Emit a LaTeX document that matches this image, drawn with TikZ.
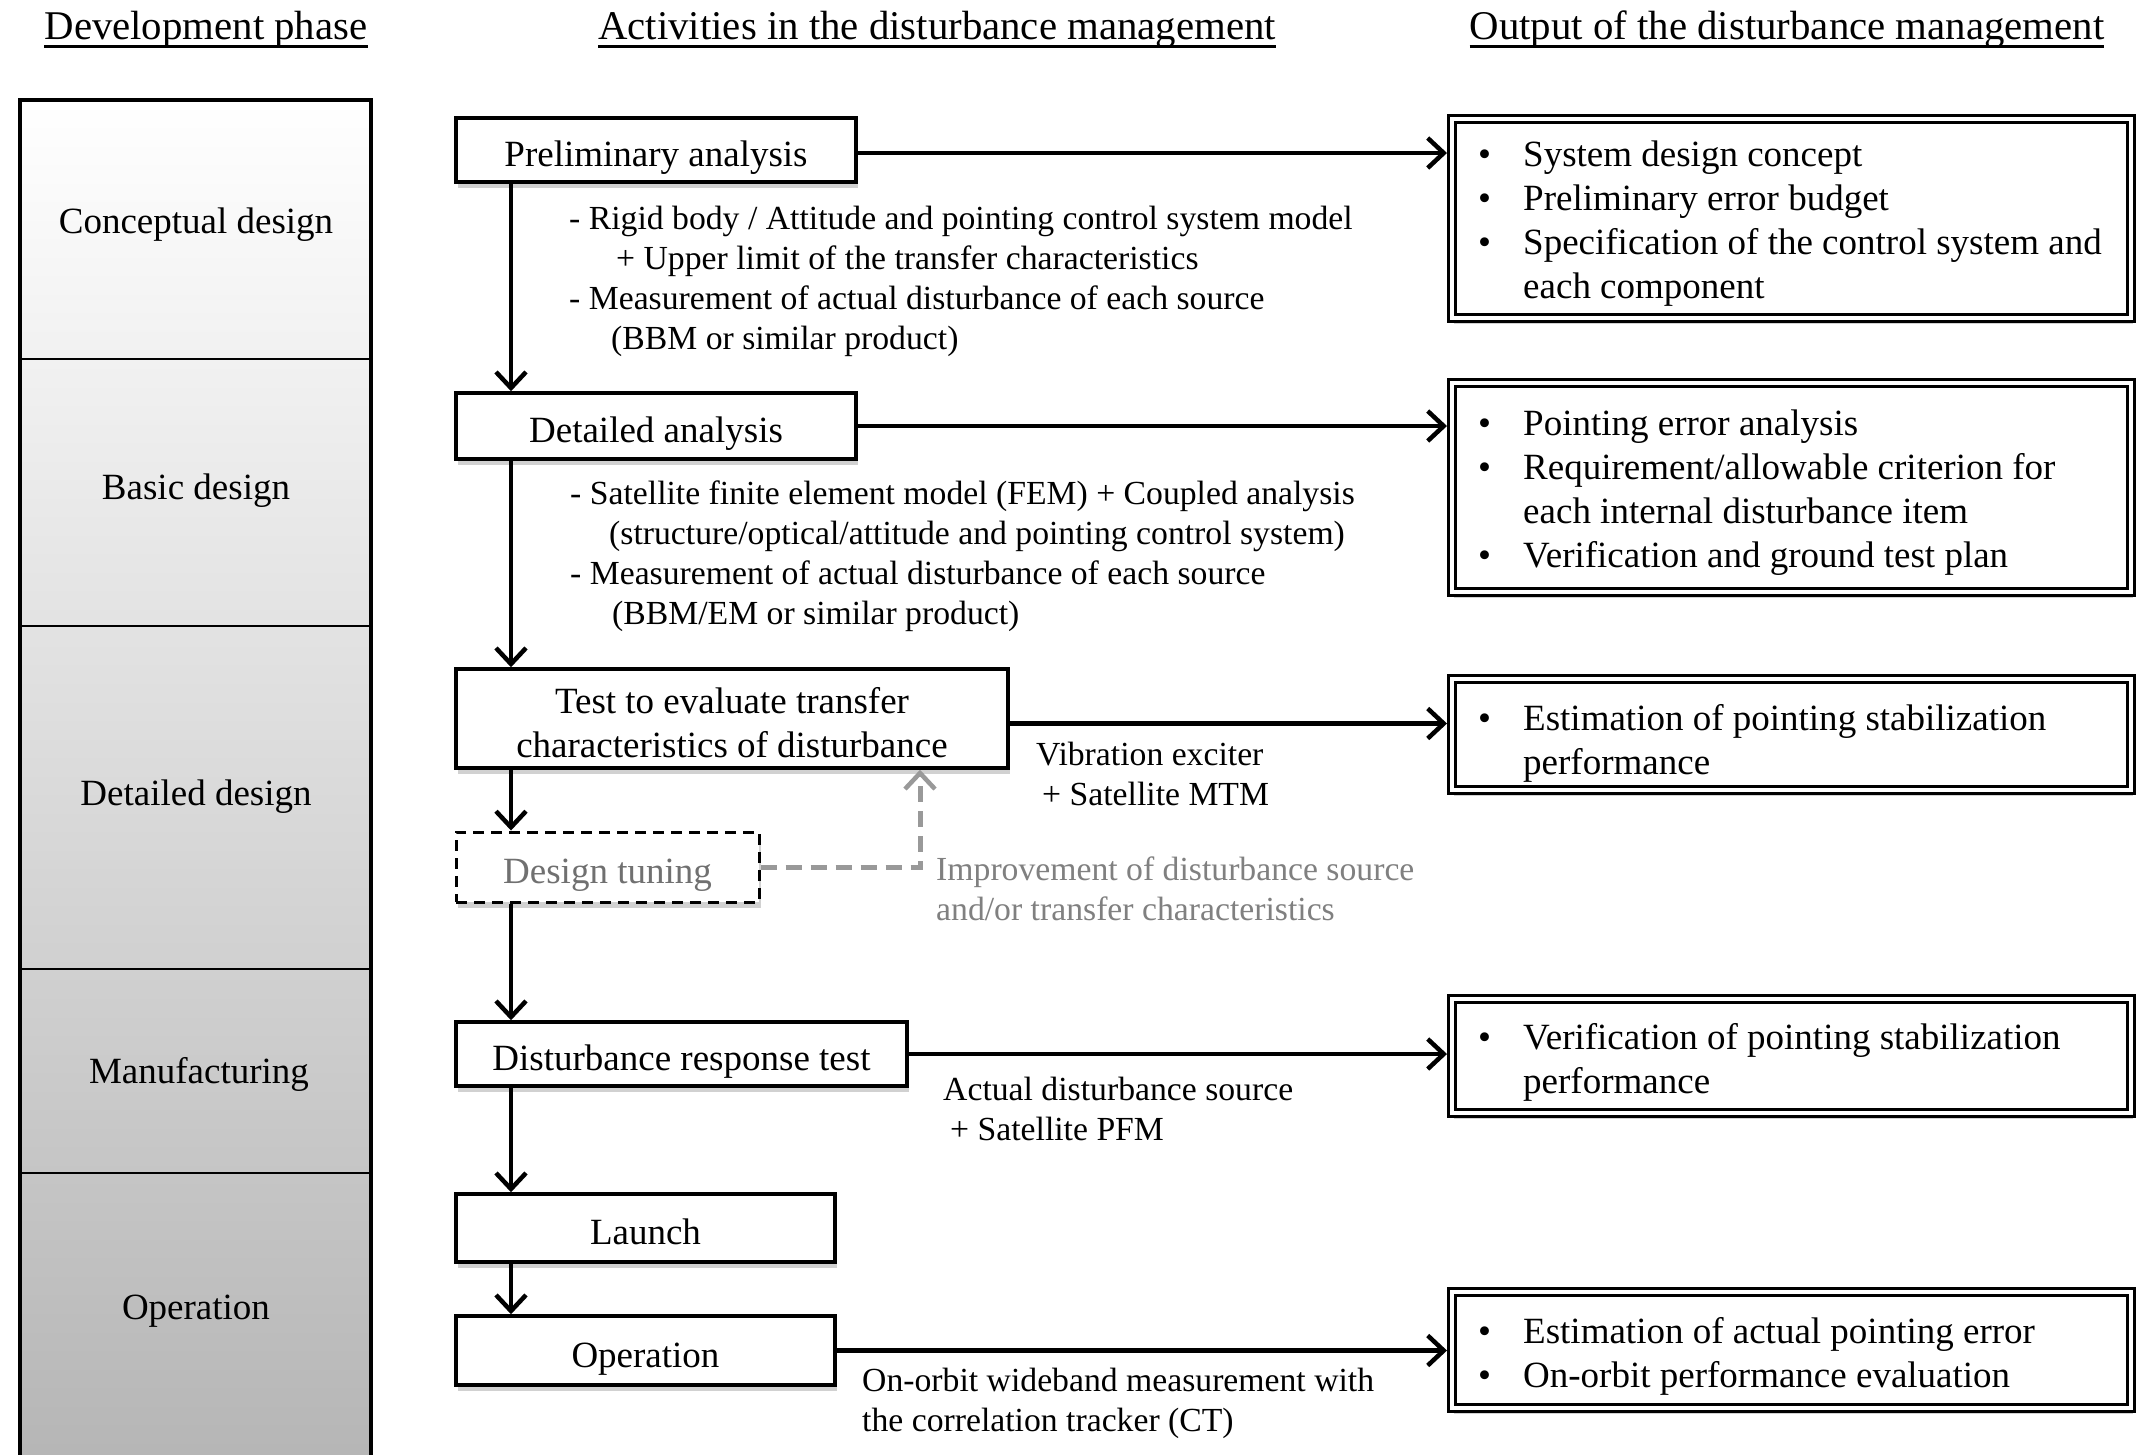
\documentclass[tikz,border=0pt]{standalone}
\usepackage{fontspec}
\setmainfont{Liberation Serif}
\usetikzlibrary{arrows.meta,shadows,calc}
\newcommand\fsz[2]{\fontsize{#1}{#2}\selectfont}
\newcommand\bul{\makebox[45pt][l]{\textbullet}}
\newcommand\ind[1]{\makebox[#1]{}}
\definecolor{dashgray}{HTML}{999999}
\definecolor{tungray}{HTML}{707070}
\definecolor{impgray}{HTML}{808080}
\tikzset{
  shad/.style={drop shadow={shadow xshift=2pt, shadow yshift=-6pt, opacity=0.18, fill=black}},
  hdr/.style={inner sep=0pt, font=\fsz{40.8}{48}, anchor=base},
  phase/.style={inner sep=0pt, font=\fsz{37}{44}, anchor=base},
  actbox/.style={draw, line width=3.5pt, fill=white, inner sep=0pt, align=center,
     font=\fsz{37}{44}, text height=33pt, text depth=0pt, shad},
  tunebox/.style={draw, line width=3pt, dash pattern=on 11pt off 7pt, fill=white, inner sep=0pt,
     font=\fsz{37}{44}, text=tungray, text height=33pt, text depth=0pt, shad},
  outbox/.style={draw, double, double distance=4pt, line width=3pt, fill=white, inner sep=0pt,
     outer sep=5pt, minimum width=679pt, shad},
  outtxt/.style={inner sep=0pt, anchor=base west, align=left, font=\fsz{37}{44}},
  note/.style={inner sep=0pt, anchor=base west, align=left, font=\fsz{33.7}{40}},
  arr/.style={line width=4.5pt, -{Straight Barb[length=16pt, width=30pt, line width=4.5pt]}},
  dasharr/.style={line width=5pt, dashgray, dash pattern=on 16pt off 9pt,
     -{Straight Barb[length=16pt, width=30pt, line width=4.5pt]}},
  uline/.style={line width=3pt},
}
\begin{document}
\begin{tikzpicture}[x=1pt,y=-1pt]
\useasboundingbox (0,0) rectangle (2138,1454);
\fill[white] (0,0) rectangle (2138,1454);

% headers
\node[hdr] (h1) at (206,39) {Development phase};
\node[hdr] (h2) at (937,39) {Activities in the disturbance management};
\node[hdr] (h3) at (1787,39) {Output of the disturbance management};
\foreach \h in {h1,h2,h3}
  \draw[uline] ([yshift=-7pt]\h.base west) -- ([yshift=-7pt]\h.base east);

% phase column
\shade[top color=white, bottom color=black!29] (20,100) rectangle (371,1470);
\draw[line width=4pt] (20,1470) -- (20,100) -- (371,100) -- (371,1470);
\foreach \yy in {359,626,969,1173}
  \draw[line width=2.5pt] (20,\yy) -- (371,\yy);
\node[phase] (p1) at (196,233) {Conceptual design};
\node[phase] (p2) at (196,499) {Basic design};
\node[phase] (p3) at (196,805) {Detailed design};
\node[phase] (p4) at (199,1083) {Manufacturing};
\node[phase] (p5) at (196,1319) {Operation};

% activity boxes
\node[actbox, minimum width=400pt, minimum height=64pt] (pa) at (656,150) {Preliminary analysis};
\node[actbox, minimum width=400pt, minimum height=66pt] (da) at (656,426) {Detailed analysis};
\node[actbox, minimum width=552pt, minimum height=99pt, text height=77pt] (te) at (732,718.5)
  {Test to evaluate transfer\\characteristics of disturbance};
\node[tunebox, minimum width=303pt, minimum height=70pt] (dt) at (607.5,867) {Design tuning};
\node[actbox, minimum width=451pt, minimum height=64pt] (dr) at (681.5,1054) {Disturbance response test};
\node[actbox, minimum width=379pt, minimum height=68pt] (la) at (645.5,1228) {Launch};
\node[actbox, minimum width=379pt, minimum height=69pt] (op) at (645.5,1350.5) {Operation};

% output boxes
\node[outbox, minimum height=199pt] (o1) at (1791.5,218.5) {};
\node[outbox, minimum height=209pt] (o2) at (1791.5,487.5) {};
\node[outbox, minimum height=111pt] (o3) at (1791.5,734.5) {};
\node[outbox, minimum height=114pt] (o4) at (1791.5,1056) {};
\node[outbox, minimum height=116pt] (o5) at (1791.5,1350) {};

% (multi-line text nodes: anchor base = baseline of the last line)
\node[outtxt] (t1) at (1478,298) {\bul System design concept\\\bul Preliminary error budget\\
  \bul Specification of the control system and\\\ind{45pt}each component};
\node[outtxt] (t2) at (1478,567) {\bul Pointing error analysis\\\bul Requirement/allowable criterion for\\
  \ind{45pt}each internal disturbance item\\\bul Verification and ground test plan};
\node[outtxt] (t3) at (1478,774) {\bul Estimation of pointing stabilization\\\ind{45pt}performance};
\node[outtxt] (t4) at (1478,1093) {\bul Verification of pointing stabilization\\\ind{45pt}performance};
\node[outtxt] (t5) at (1478,1387) {\bul Estimation of actual pointing error\\\bul On-orbit performance evaluation};

% notes
\node[note] (n1) at (569,349) {- Rigid body / Attitude and pointing control system model\\
  \ind{47pt}+ Upper limit of the transfer characteristics\\
  - Measurement of actual disturbance of each source\\
  \ind{42pt}(BBM or similar product)};
\node[note] (n2) at (570,624) {- Satellite finite element model (FEM) + Coupled analysis\\
  \ind{39pt}(structure/optical/attitude and pointing control system)\\
  - Measurement of actual disturbance of each source\\
  \ind{42pt}(BBM/EM or similar product)};
\node[note] (n3) at (1036,805) {Vibration exciter\\\ind{6pt}+ Satellite MTM};
\node[note, text=impgray] (n4) at (936,920) {Improvement of disturbance source\\and/or transfer characteristics};
\node[note] (n5) at (943,1140) {Actual disturbance source\\\ind{7pt}+ Satellite PFM};
\node[note] (n6) at (862,1431) {On-orbit wideband measurement with\\the correlation tracker (CT)};

% vertical flow
\coordinate (vx) at (511,0);
\draw[arr] (pa.south -| vx) -- (da.north -| vx);
\draw[arr] (da.south -| vx) -- (te.north -| vx);
\draw[arr] (te.south -| vx) -- (dt.north -| vx);
\draw[arr] (dt.south -| vx) -- (dr.north -| vx);
\draw[arr] (dr.south -| vx) -- (la.north -| vx);
\draw[arr] (la.south -| vx) -- (op.north -| vx);

% horizontal outputs
\draw[arr] ([yshift=-3pt]pa.east) -- ([yshift=-3pt]pa.east -| o1.west);
\draw[arr] (da.east) -- (da.east -| o2.west);
\draw[arr] ([yshift=-5pt]te.east) -- ([yshift=-5pt]te.east -| o3.west);
\draw[arr] (dr.east) -- (dr.east -| o4.west);
\draw[arr] (op.east) -- (op.east -| o5.west);

% feedback
\draw[dasharr] (dt.east) -| ([xshift=188pt]te.south);
\end{tikzpicture}
\end{document}
